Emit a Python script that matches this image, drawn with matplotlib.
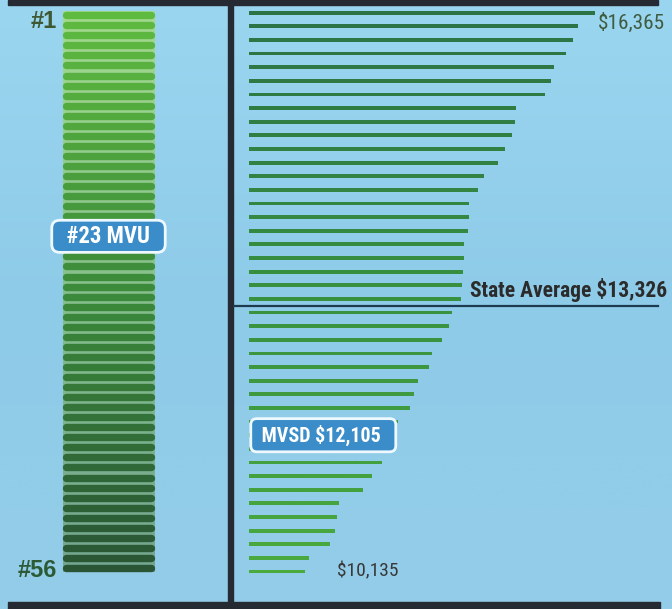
import matplotlib.pyplot as plt
import numpy as np
from matplotlib.colors import LinearSegmentedColormap
from matplotlib.patches import Rectangle

# Left column: districts ranked 1..56
ranks = np.arange(1, 57)
mvu_rank = 23
mvu_label = "#23 MVU"

# Right panel: per-pupil spending, highest to lowest
spending = [16365, 16000, 15890, 15740, 15480, 15420, 15290, 14670, 14650, 14580,
            14430, 14270, 13980, 13850, 13660, 13650, 13640, 13550, 13540, 13520,
            13510, 13480, 13290, 13235, 13070, 12860, 12800, 12570, 12480, 12400,
            12130, 12105, 11950, 11780, 11570, 11370, 10870, 10820, 10780, 10670,
            10220, 10135]
state_avg = 13326
mvsd_value = 12105
top_label = "$16,365"
bottom_label = "$10,135"
avg_label = "State Average $13,326"
mvsd_label = "MVSD $12,105"

BASE = 8930  # where the spending bars start
NARROW = ['Roboto Condensed', 'Liberation Sans Narrow', 'DejaVu Sans']
WIDE = ['Liberation Sans', 'DejaVu Sans']
COND = dict(family=NARROW, fontstretch='condensed')

W, H = 672, 609
fig = plt.figure(figsize=(W / 100, H / 100), dpi=100)

# background + frame (pixel coordinates)
bg = fig.add_axes([0, 0, 1, 1])
bg.set_xlim(0, W)
bg.set_ylim(H, 0)
bg.axis('off')
bg_cmap = LinearSegmentedColormap.from_list('bg', ['#9bd6f0', '#8ecbe8', '#94cde8'])
bg.imshow(np.linspace(0, 1, 256).reshape(-1, 1), extent=[0, W, H, 0],
          cmap=bg_cmap, aspect='auto')
frame = '#262a33'
bg.add_patch(Rectangle((8, 0), 650, 4.5, color=frame))
bg.add_patch(Rectangle((228, 0), 5, H, color=frame))
bg.add_patch(Rectangle((8, 602), 652, 7, color=frame))

# left: rank column
axl = fig.add_axes([0, 0, 228 / W, 1])
axl.axis('off')
axl.patch.set_visible(False)
# pale band showing through the gaps between rank bars
band = LinearSegmentedColormap.from_list('band', ['#a2d98f', '#86bf8c', '#74a590'])
axl.imshow(np.linspace(0, 1, 64).reshape(-1, 1), cmap=band, aspect='auto',
           extent=[-0.03, 1.03, ranks[-1] + 0.4, ranks[0] - 0.4], zorder=0)
left_cmap = LinearSegmentedColormap.from_list('l', ['#5fba40', '#3b8a3a', '#2a5535'])
axl.hlines(ranks, 0, 1, colors=left_cmap(np.linspace(0, 1, len(ranks))),
           linewidth=5.3, capstyle='round', zorder=2)
axl.set_xlim(-0.762, 1.89)
axl.set_ylim(60.08, -0.512)
axl.annotate(f"#{ranks[0]}", xy=(0, ranks[0]), xytext=(-6, -9.2),
             textcoords='offset points', ha='right', va='baseline',
             fontsize=17, fontweight='bold', family=WIDE, color='#3d5832')
axl.annotate(f"#{ranks[-1]}", xy=(0, ranks[-1]), xytext=(-6, -6.3),
             textcoords='offset points', ha='right', va='baseline',
             fontsize=17, fontweight='bold', family=WIDE, color='#2c5a34')
axl.text(0.5, mvu_rank, "  " + mvu_label + "  ", ha='center', va='center',
         fontsize=16.4, fontweight='bold', color='white', zorder=5,
         bbox=dict(boxstyle='round,pad=0.2,rounding_size=0.35',
                   fc='#3b8dc9', ec='#eef8ff', lw=2), **COND)

# right: spending bars
n = len(spending)
idx = np.arange(n)
axr = fig.add_axes([233 / W, 0, (W - 233) / W, 1])
axr.set_xlim(8588, 18018)
axr.set_ylim(43.75, -0.93)
axr.axis('off')
axr.patch.set_visible(False)
right_cmap = LinearSegmentedColormap.from_list('r', ['#2b7245', '#37903f', '#4aaa3e'])
axr.barh(idx, np.array(spending) - BASE, left=BASE, height=0.28,
         color=right_cmap(np.linspace(0, 1, n)))

avg_y = sum(s > state_avg for s in spending) - 0.5
axr.axhline(avg_y, xmin=0, xmax=0.968, color='#1e3a4f', lw=1.6)
axr.annotate(avg_label, xy=(state_avg, avg_y), xytext=(12, 6.5),
             textcoords='offset points', ha='left', va='baseline',
             fontsize=15.5, fontweight='bold', color='#2b2b2b', **COND)

axr.annotate(top_label, xy=(spending[0], 0), xytext=(2, -11.7),
             textcoords='offset points', ha='left', va='baseline',
             fontsize=15.3, color='#3f5b40', **COND)
axr.annotate(bottom_label, xy=(spending[-1], n - 1), xytext=(23, -3.7),
             textcoords='offset points', ha='left', va='baseline',
             fontsize=14, color='#383838', **COND)

mvsd_idx = spending.index(mvsd_value)
axr.annotate(" " + mvsd_label + "  ", xy=(mvsd_value, mvsd_idx), xytext=(-5, 0),
             textcoords='offset points', ha='right', va='center',
             fontsize=14.4, fontweight='bold', color='white',
             bbox=dict(boxstyle='round,pad=0.3,rounding_size=0.3',
                       fc='#3b8dc9', ec='#eef8ff', lw=2), **COND)

fig.savefig('out.png', dpi=100)
